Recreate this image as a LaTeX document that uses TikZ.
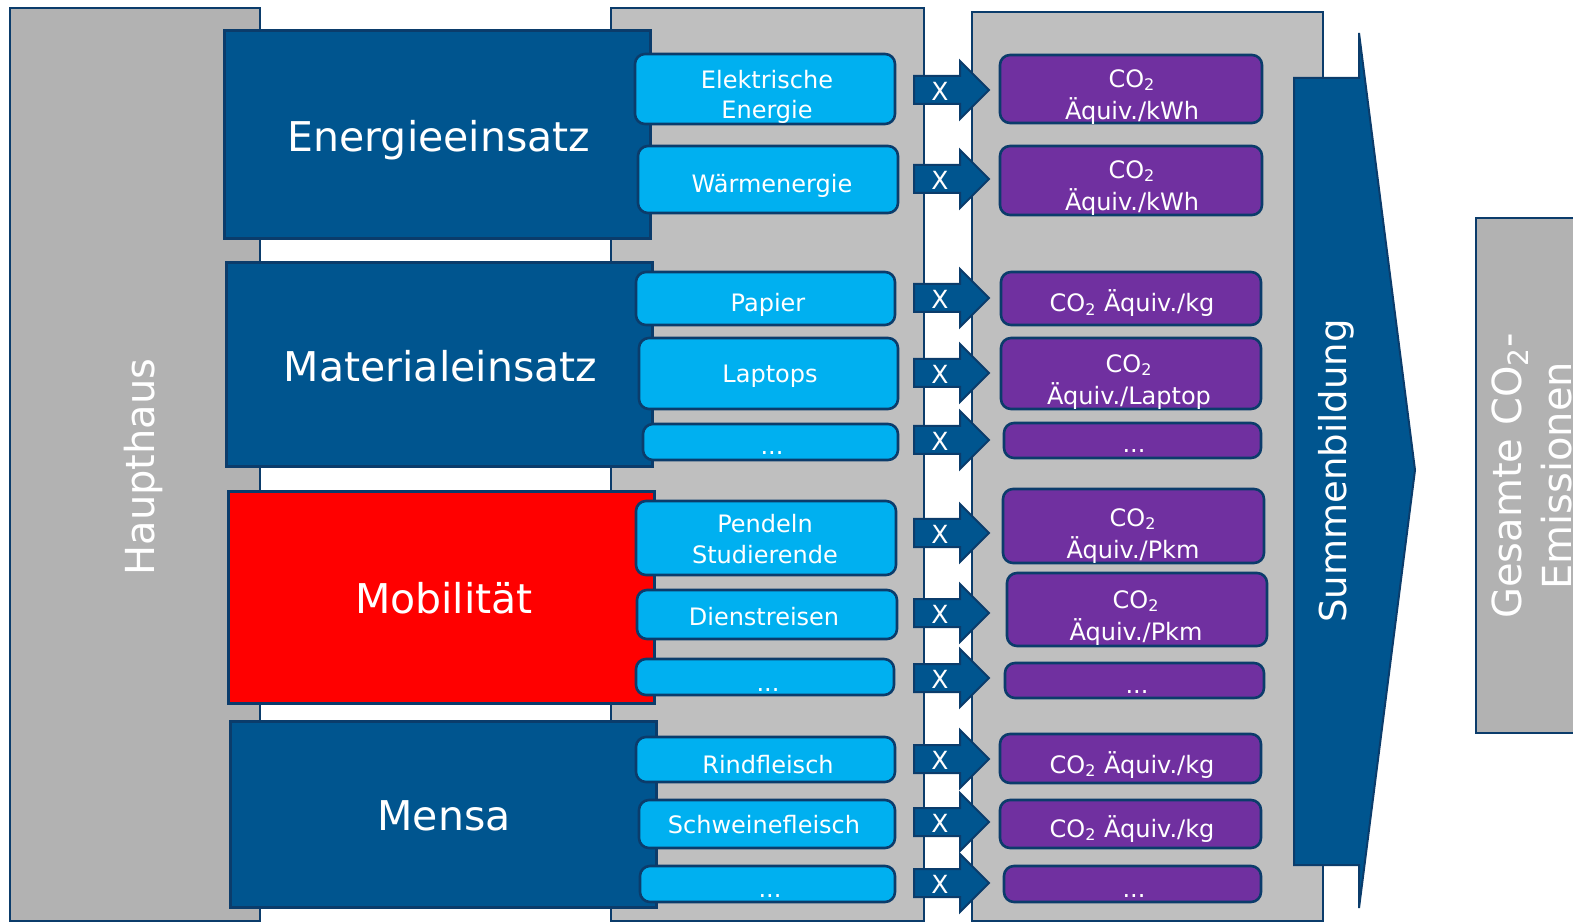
\documentclass[tikz,border=0pt]{standalone}
\usepackage{fontspec}
\setmainfont{DejaVu Sans}
\definecolor{rahmen}{HTML}{0B3C6B}
\definecolor{dunkelblau}{HTML}{00558F}
\definecolor{hellblau}{HTML}{00B0F0}
\definecolor{lila}{HTML}{7030A0}
\definecolor{grauhell}{HTML}{BFBFBF}
\definecolor{graudunkel}{HTML}{B2B2B2}
\tikzset{
  flaeche/.style={draw=rahmen, line width=1pt},
  kategorie/.style={draw=rahmen, line width=1.5pt, fill=dunkelblau, inner sep=0pt},
  quelle/.style={draw=rahmen, line width=1.3pt, fill=hellblau, rounded corners=5pt, inner sep=0pt},
  faktor/.style={quelle, fill=lila},
  weiss/.style={text=white, inner sep=0pt, align=center},
  klein/.style={weiss, font=\fontsize{12}{15.3}\selectfont},
  einzeilig/.style={klein, text height=9.1pt, text depth=2.9pt},
  lilatext/.style={weiss, font=\fontsize{12}{16.2}\selectfont},
  gross/.style={weiss, font=\fontsize{20.5}{24}\selectfont, text height=15.6pt, text depth=4.9pt},
  pfeil/.style={draw=rahmen, line width=1pt, fill=dunkelblau},
  xmal/.style={text=white, inner sep=0pt, font=\fontsize{12.5}{15}\selectfont}
}
\begin{document}
\begin{tikzpicture}[x=0.5pt,y=-0.5pt]
\useasboundingbox (0,0) rectangle (1573,924);
\clip (0,0) rectangle (1573,924);
% Hintergrund
\draw[flaeche, fill=graudunkel] (10,8) rectangle (260,921);
\draw[flaeche, fill=grauhell] (611,8) rectangle (924,921);
\draw[flaeche, fill=grauhell] (972,12) rectangle (1323,921);
\draw[flaeche, fill=graudunkel] (1476,218) rectangle (1600,733);
\node[weiss, rotate=90, font=\fontsize{20}{24}\selectfont, text height=15.2pt, text depth=4.8pt] (haupthaus) at (143.6,467) {Haupthaus};

% Bereiche
\node[kategorie, minimum width=213pt, minimum height=104pt] (energie) at (437,135) {};
\node[gross] (energie-t) at (439,141.3) {Energieeinsatz};
\node[kategorie, minimum width=213pt, minimum height=102pt] (material) at (439,365) {};
\node[gross] (material-t) at (440.5,371.3) {Materialeinsatz};
\node[kategorie, fill=red, minimum width=213pt, minimum height=105.5pt] (mobil) at (441,597.5) {};
\node[gross] (mobil-t) at (444,602.3) {Mobilität};
\node[kategorie, minimum width=213pt, minimum height=93pt] (mensa) at (443,814) {};
\node[gross] (mensa-t) at (444,819.3) {Mensa};

% Verbrauchsgroessen
\node[quelle, minimum width=130pt, minimum height=35pt] (elek) at (765,89) {};
\node[klein] (elek-t) at (767,97) {Elektrische\\Energie};
\node[quelle, minimum width=130pt, minimum height=33.5pt] (waerme) at (768,179.5) {};
\node[einzeilig] (waerme-t) at (772,186.8) {Wärmenergie};
\node[quelle, minimum width=129.5pt, minimum height=26.5pt] (papier) at (765.5,298.5) {};
\node[einzeilig] (papier-t) at (768,305.8) {Papier};
\node[quelle, minimum width=129.5pt, minimum height=35.5pt] (laptops) at (768.5,373.5) {};
\node[einzeilig] (laptops-t) at (770,376.8) {Laptops};
\node[quelle, minimum width=127.5pt, minimum height=18pt] (matrest) at (770.5,442) {};
\node[einzeilig] (matrest-t) at (772,448.8) {...};
\node[quelle, minimum width=130pt, minimum height=37pt] (pendeln) at (766,538) {};
\node[klein] (pendeln-t) at (765,539.2) {Pendeln\\Studierende};
\node[quelle, minimum width=130pt, minimum height=24.5pt] (dienst) at (767,614.5) {};
\node[einzeilig] (dienst-t) at (764,618.8) {Dienstreisen};
\node[quelle, minimum width=129pt, minimum height=18pt] (mobrest) at (765,677) {};
\node[einzeilig] (mobrest-t) at (768,684.8) {...};
\node[quelle, minimum width=129.5pt, minimum height=22.5pt] (rind) at (765.5,759.5) {};
\node[einzeilig] (rind-t) at (768,766.8) {Rindfleisch};
\node[quelle, minimum width=128pt, minimum height=24pt] (schwein) at (767,824) {};
\node[einzeilig] (schwein-t) at (764,826.8) {Schweinefleisch};
\node[quelle, minimum width=127.5pt, minimum height=18pt] (mensarest) at (767.5,884) {};
\node[einzeilig] (mensarest-t) at (770,890.8) {...};

% Emissionsfaktoren
\node[faktor, minimum width=131pt, minimum height=34pt] (f-elek) at (1131,89) {};
\node[lilatext] (f-elek-t) at (1132,97) {CO\textsubscript{2}\\Äquiv./kWh};
\node[faktor, minimum width=131pt, minimum height=34.5pt] (f-waerme) at (1131,180.5) {};
\node[lilatext] (f-waerme-t) at (1132,188) {CO\textsubscript{2}\\Äquiv./kWh};
\node[faktor, minimum width=130pt, minimum height=26.5pt] (f-papier) at (1131,298.5) {};
\node[einzeilig] (f-papier-t) at (1132,305.8) {CO\textsubscript{2} Äquiv./kg};
\node[faktor, minimum width=130pt, minimum height=35.5pt] (f-laptops) at (1131,373.5) {};
\node[lilatext] (f-laptops-t) at (1129,382) {CO\textsubscript{2}\\Äquiv./Laptop};
\node[faktor, minimum width=128.5pt, minimum height=17.5pt] (f-matrest) at (1132.5,440.5) {};
\node[einzeilig] (f-matrest-t) at (1134,446.8) {...};
\node[faktor, minimum width=130.5pt, minimum height=37pt] (f-pendeln) at (1133.5,526) {};
\node[lilatext] (f-pendeln-t) at (1133,536) {CO\textsubscript{2}\\Äquiv./Pkm};
\node[faktor, minimum width=130pt, minimum height=36.5pt] (f-dienst) at (1137,609.5) {};
\node[lilatext] (f-dienst-t) at (1136,618) {CO\textsubscript{2}\\Äquiv./Pkm};
\node[faktor, minimum width=129.5pt, minimum height=17.5pt] (f-mobrest) at (1134.5,680.5) {};
\node[einzeilig] (f-mobrest-t) at (1137,686.8) {...};
\node[faktor, minimum width=130.5pt, minimum height=24.5pt] (f-rind) at (1130.5,758.5) {};
\node[einzeilig] (f-rind-t) at (1132,766.8) {CO\textsubscript{2} Äquiv./kg};
\node[faktor, minimum width=130.5pt, minimum height=24pt] (f-schwein) at (1130.5,824) {};
\node[einzeilig] (f-schwein-t) at (1132,830.8) {CO\textsubscript{2} Äquiv./kg};
\node[faktor, minimum width=128.5pt, minimum height=18pt] (f-mensarest) at (1132.5,884) {};
\node[einzeilig] (f-mensarest-t) at (1134,890.8) {...};

% Multiplikationspfeile
\foreach \y [count=\i] in {90,179,298,373,440,533,613,678,759,822,883} {
  \draw[pfeil] (914,\y-14) -- (960,\y-14) -- (960,\y-29) -- (989,\y)
    -- (960,\y+29) -- (960,\y+14) -- (914,\y+14) -- cycle;
  \node[xmal] (mal\i) at (940,\y+1) {X};
}

% Summe
\draw[pfeil] (1294,78) -- (1359,78) -- (1359,33) -- (1415,470) -- (1359,908)
  -- (1359,865) -- (1294,865) -- cycle;
\node[weiss, rotate=90, font=\fontsize{18.5}{22}\selectfont, text height=14.1pt, text depth=4.4pt] (summe) at (1336.4,471) {Summenbildung};
\node[weiss, rotate=90, font=\fontsize{20}{25}\selectfont] (gesamt) at (1532,476) {Gesamte CO\textsubscript{2}-\\Emissionen};
\end{tikzpicture}
\end{document}
